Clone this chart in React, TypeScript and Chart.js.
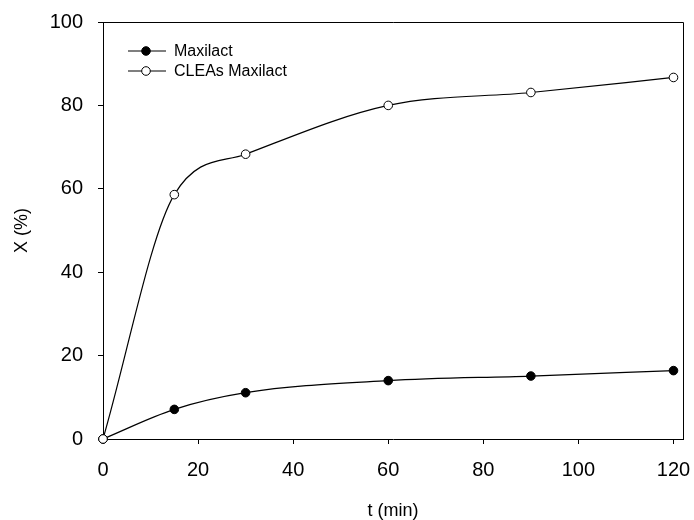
import React, { useEffect, useRef } from "react";
import { Chart, registerables } from "chart.js";

Chart.register(...registerables);

const timeMin = [0, 15, 30, 60, 90, 120];
const maxilact = [0, 7.1, 11.1, 14.0, 15.1, 16.4];
const cleasMaxilact = [0, 58.6, 68.3, 80.0, 83.1, 86.7];
const seriesLabels = ["Maxilact", "CLEAs Maxilact"];
const xTicks = [0, 20, 40, 60, 80, 100, 120];
const yTicks = [0, 20, 40, 60, 80, 100];
const xTitle = "t (min)";
const yTitle = "X (%)";

const FONT = "'Liberation Sans', Arial, sans-serif";

const framePlugin = {
  id: "frameAndLegend",
  afterDatasetsDraw(chart: any) {
    const { ctx, chartArea } = chart;
    ctx.save();
    ctx.strokeStyle = "#000";
    ctx.lineWidth = 1;
    ctx.beginPath();
    ctx.moveTo(chartArea.left, chartArea.top + 0.5);
    ctx.lineTo(chartArea.right + 0.5, chartArea.top + 0.5);
    ctx.lineTo(chartArea.right + 0.5, chartArea.bottom);
    ctx.stroke();

    // legend inside plot
    const lx0 = chartArea.left + 25;
    const lx1 = chartArea.left + 63;
    const mx = chartArea.left + 43;
    const tx = chartArea.left + 71;
    const rows = [chartArea.top + 29, chartArea.top + 49];
    const fills = ["#000", "#fff"];
    ctx.font = `16px ${FONT}`;
    ctx.textBaseline = "middle";
    ctx.textAlign = "left";
    rows.forEach((y, i) => {
      ctx.beginPath();
      ctx.lineWidth = 1.2;
      ctx.moveTo(lx0, y);
      ctx.lineTo(lx1, y);
      ctx.stroke();
      ctx.beginPath();
      ctx.arc(mx, y, 4.3, 0, Math.PI * 2);
      ctx.fillStyle = fills[i];
      ctx.fill();
      ctx.lineWidth = 1;
      ctx.stroke();
      ctx.fillStyle = "#000";
      ctx.fillText(seriesLabels[i], tx, y + 1);
    });
    ctx.restore();
  },
};

export default function App() {
  const ref = useRef<HTMLCanvasElement | null>(null);
  useEffect(() => {
    if (!ref.current) return;
    const chart = new Chart(ref.current, {
      type: "line",
      data: {
        datasets: [
          {
            label: seriesLabels[0],
            data: timeMin.map((t, i) => ({ x: t, y: maxilact[i] })),
            borderColor: "#000",
            borderWidth: 1.2,
            backgroundColor: "#000",
            pointBackgroundColor: "#000",
            pointBorderColor: "#000",
            pointBorderWidth: 1,
            pointRadius: 4.3,
            cubicInterpolationMode: "monotone",
            clip: false as any,
            order: 2,
          },
          {
            label: seriesLabels[1],
            data: timeMin.map((t, i) => ({ x: t, y: cleasMaxilact[i] })),
            borderColor: "#000",
            borderWidth: 1.2,
            backgroundColor: "#fff",
            pointBackgroundColor: "#fff",
            pointBorderColor: "#000",
            pointBorderWidth: 1,
            pointRadius: 4.3,
            cubicInterpolationMode: "monotone",
            clip: false as any,
            order: 1,
          },
        ],
      },
      options: {
        responsive: false,
        animation: false,
        events: [],
        layout: { padding: { top: 22, right: 11, left: 0, bottom: 0 } },
        plugins: {
          legend: { display: false },
          tooltip: { enabled: false },
        },
        scales: {
          x: {
            type: "linear",
            min: 0,
            max: 122,
            afterBuildTicks: (s: any) => {
              s.ticks = xTicks.map((v) => ({ value: v }));
            },
            afterFit: (s: any) => {
              s.height = 81;
              s.paddingLeft = 0;
              s.paddingRight = 0;
            },
            grid: {
              drawOnChartArea: false,
              drawTicks: true,
              tickLength: 5,
              color: "#000",
            },
            border: { display: true, color: "#000", width: 1 },
            ticks: {
              color: "#000",
              font: { family: FONT, size: 20 },
              padding: 14,
              maxRotation: 0,
              autoSkip: false,
            },
            title: {
              display: true,
              text: xTitle,
              color: "#000",
              font: { family: FONT, size: 18, lineHeight: 1 },
              padding: { top: 0, bottom: 0 },
            },
          },
          y: {
            type: "linear",
            min: 0,
            max: 100,
            afterBuildTicks: (s: any) => {
              s.ticks = yTicks.map((v) => ({ value: v }));
            },
            afterFit: (s: any) => {
              s.width = 103;
              s.paddingTop = 0;
              s.paddingBottom = 0;
            },
            grid: {
              drawOnChartArea: false,
              drawTicks: true,
              tickLength: 5,
              color: "#000",
            },
            border: { display: true, color: "#000", width: 1 },
            ticks: {
              color: "#000",
              font: { family: FONT, size: 20 },
              padding: 15,
              autoSkip: false,
            },
            title: {
              display: true,
              text: yTitle,
              color: "#000",
              font: { family: FONT, size: 18, lineHeight: 1 },
              padding: { top: 13, bottom: 0 },
            },
          },
        },
      },
      plugins: [framePlugin],
    });
    return () => chart.destroy();
  }, []);
  return (
    <div style={{ position: "absolute", left: 0, top: 0, width: 694, height: 520, background: "#fff" }}>
      <canvas ref={ref} width={694} height={520} style={{ width: 694, height: 520 }} />
    </div>
  );
}
